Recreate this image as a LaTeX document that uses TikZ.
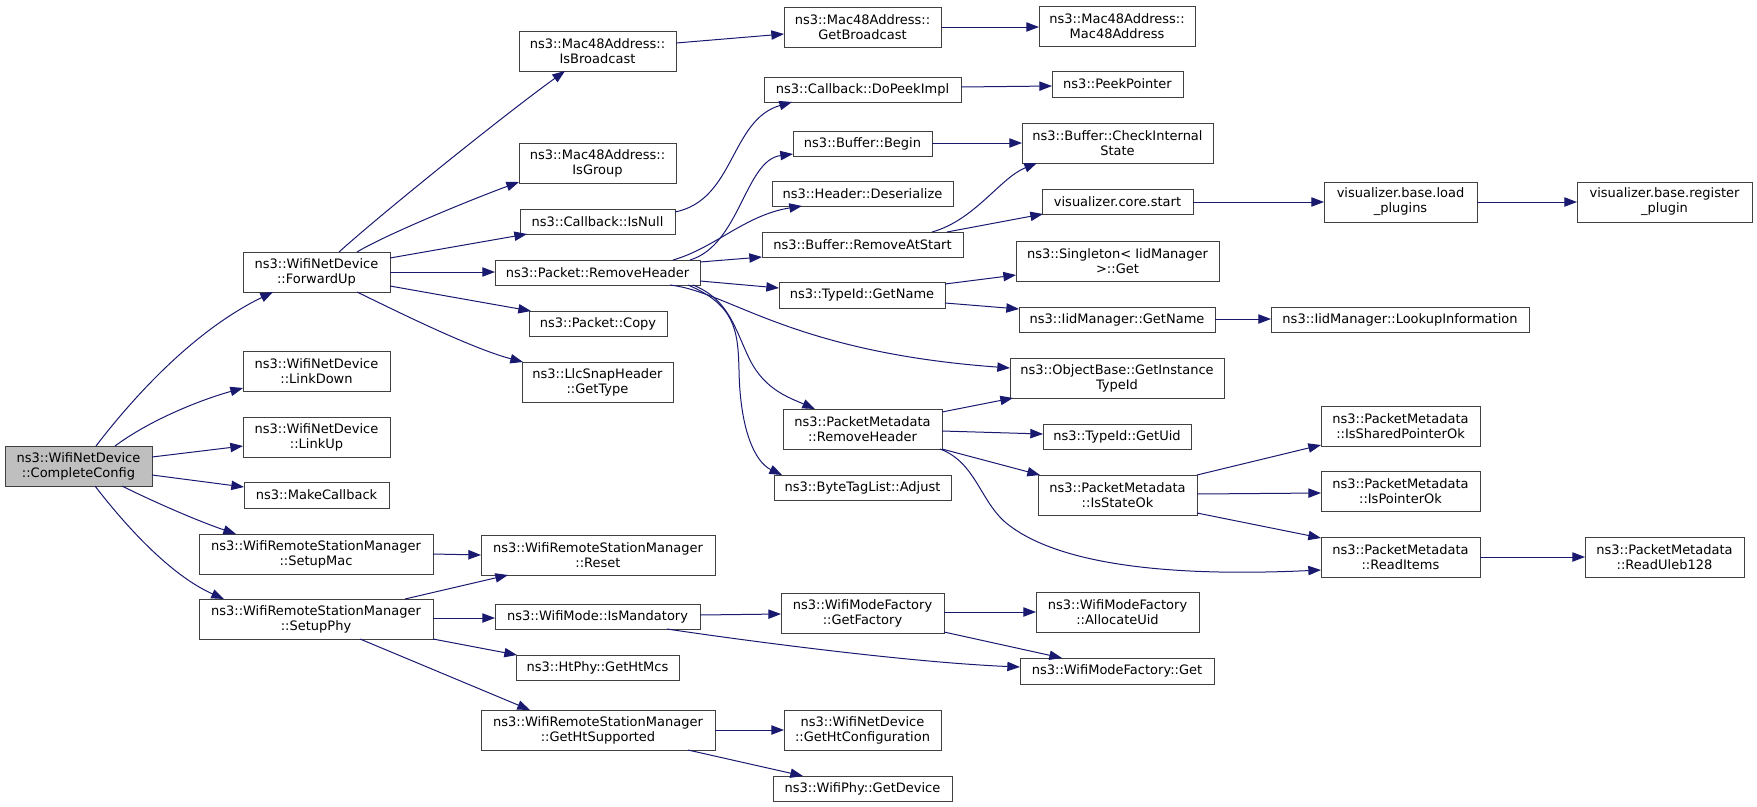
\documentclass[tikz,border=0pt]{standalone}
\usepackage{fontspec}
\setmainfont{DejaVu Sans}
\usetikzlibrary{arrows.meta}
\definecolor{edgecol}{HTML}{191970}
\definecolor{boxcol}{HTML}{404040}
\definecolor{rootfill}{HTML}{BFBFBF}
\tikzset{
  box/.style={draw=boxcol,line width=0.75pt,inner sep=0pt,outer sep=0pt,align=center,
    font=\fontsize{9.75}{11.25}\selectfont},
  rootbox/.style={fill=rootfill},
  call/.style={draw=edgecol,line width=0.75pt,-{Triangle[length=9.5pt,width=7pt]}}
}
\newcommand\bx[7][]{\pgfmathsetmacro\bxw{(#5-#3)*0.75}\pgfmathsetmacro\bxh{(#6-#4)*0.75}%
 \node[box,#1,minimum width=\bxw pt,minimum height=\bxh pt] (#2) at ({(#3+#5)/2},{(#4+#6)/2}) {#7};}
\begin{document}
\begin{tikzpicture}[x=0.75pt,y=-0.75pt]
\useasboundingbox (0,0) rectangle (1757,807);
% nodes
\bx[rootbox]{cc}{5}{446}{152}{486}{ns3::WifiNetDevice\\::CompleteConfig}
\bx{fwd}{243}{252}{390}{292}{ns3::WifiNetDevice\\::ForwardUp}
\bx{ldown}{243}{351}{390}{391}{ns3::WifiNetDevice\\::LinkDown}
\bx{lup}{243}{417}{390}{457}{ns3::WifiNetDevice\\::LinkUp}
\bx{mkcb}{244}{482}{389}{508}{ns3::MakeCallback}
\bx{smac}{199}{534}{433}{574}{ns3::WifiRemoteStationManager\\::SetupMac}
\bx{sphy}{199}{599}{433}{639}{ns3::WifiRemoteStationManager\\::SetupPhy}
\bx{isbc}{519}{31}{676}{71}{ns3::Mac48Address::\\IsBroadcast}
\bx{isgrp}{519}{143}{676}{183}{ns3::Mac48Address::\\IsGroup}
\bx{isnull}{520}{209}{675}{234}{ns3::Callback::IsNull}
\bx{prh}{495}{260}{700}{285}{ns3::Packet::RemoveHeader}
\bx{pcopy}{529}{311}{667}{336}{ns3::Packet::Copy}
\bx{llc}{522}{362}{673}{402}{ns3::LlcSnapHeader\\::GetType}
\bx{getbc}{784}{7}{941}{47}{ns3::Mac48Address::\\GetBroadcast}
\bx{mac48}{1039}{6}{1195}{46}{ns3::Mac48Address::\\Mac48Address}
\bx{peek}{764}{77}{961}{102}{ns3::Callback::DoPeekImpl}
\bx{ppt}{1052}{71}{1183}{97}{ns3::PeekPointer}
\bx{bbeg}{793}{131}{932}{156}{ns3::Buffer::Begin}
\bx{hdes}{772}{181}{953}{206}{ns3::Header::Deserialize}
\bx{bras}{762}{232}{963}{257}{ns3::Buffer::RemoveAtStart}
\bx{cis}{1022}{123}{1213}{163}{ns3::Buffer::CheckInternal\\State}
\bx{vcs}{1042}{189}{1193}{214}{visualizer.core.start}
\bx{sing}{1016}{241}{1219}{281}{ns3::Singleton< IidManager\\ >::Get}
\bx{lpl}{1324}{182}{1477}{222}{visualizer.base.load\\\_plugins}
\bx{rpl}{1577}{182}{1752}{222}{visualizer.base.register\\\_plugin}
\bx{tgn}{779}{282}{945}{308}{ns3::TypeId::GetName}
\bx{iign}{1019}{307}{1215}{332}{ns3::IidManager::GetName}
\bx{lookup}{1271}{307}{1529}{332}{ns3::IidManager::LookupInformation}
\bx{ogit}{1010}{358}{1224}{398}{ns3::ObjectBase::GetInstance\\TypeId}
\bx{pmrh}{783}{409}{942}{449}{ns3::PacketMetadata\\::RemoveHeader}
\bx{tuid}{1043}{424}{1191}{449}{ns3::TypeId::GetUid}
\bx{btla}{774}{475}{951}{500}{ns3::ByteTagList::Adjust}
\bx{isok}{1038}{475}{1197}{515}{ns3::PacketMetadata\\::IsStateOk}
\bx{isspo}{1321}{406}{1480}{446}{ns3::PacketMetadata\\::IsSharedPointerOk}
\bx{ispo}{1321}{471}{1480}{511}{ns3::PacketMetadata\\::IsPointerOk}
\bx{ritems}{1321}{537}{1480}{577}{ns3::PacketMetadata\\::ReadItems}
\bx{ruleb}{1585}{537}{1744}{577}{ns3::PacketMetadata\\::ReadUleb128}
\bx{reset}{481}{535}{715}{575}{ns3::WifiRemoteStationManager\\::Reset}
\bx{ismand}{495}{604}{700}{629}{ns3::WifiMode::IsMandatory}
\bx{htmcs}{516}{655}{679}{680}{ns3::HtPhy::GetHtMcs}
\bx{htsup}{481}{710}{715}{750}{ns3::WifiRemoteStationManager\\::GetHtSupported}
\bx{gfact}{781}{593}{944}{633}{ns3::WifiModeFactory\\::GetFactory}
\bx{htconf}{784}{710}{941}{750}{ns3::WifiNetDevice\\::GetHtConfiguration}
\bx{getdev}{773}{776}{952}{801}{ns3::WifiPhy::GetDevice}
\bx{alloc}{1036}{592}{1199}{632}{ns3::WifiModeFactory\\::AllocateUid}
\bx{wmfget}{1020}{658}{1214}{684}{ns3::WifiModeFactory::Get}
% edges from CompleteConfig
\draw[call] (cc.north -| 96,0) .. controls (135,395) and (195,330) .. (fwd.south -| 273,0);
\draw[call] (cc.north -| 115,0) .. controls (150,420) and (200,400) .. (ldown.west |- 0,388);
\draw[call] (cc.east |- 0,457) -- (lup.west |- 0,446);
\draw[call] (cc.east |- 0,475) -- (mkcb.west |- 0,487);
\draw[call] (cc.south -| 122,0) .. controls (150,500) and (195,520) .. (smac.north -| 236,0);
\draw[call] (cc.south -| 95,0) .. controls (125,525) and (170,575) .. (sphy.north -| 224,0);
% ForwardUp
\draw[call] (fwd.north -| 339,0) .. controls (380,215) and (500,118) .. (isbc.south -| 565,0);
\draw[call] (fwd.north -| 357,0) .. controls (385,235) and (470,200) .. (isgrp.west |- 0,182);
\draw[call] (fwd.east |- 0,258) -- (isnull.south -| 527,0);
\draw[call] (fwd.east |- 0,272) -- (prh.west |- 0,272);
\draw[call] (fwd.east |- 0,286) -- (pcopy.north -| 531,0);
\draw[call] (fwd.south -| 357,0) .. controls (390,308) and (470,348) .. (llc.north -| 523,0);
\draw[call] (isbc.east |- 0,43) -- (getbc.west |- 0,34);
\draw[call] (getbc.east |- 0,27) -- (mac48.west |- 0,27);
\draw[call] (isnull.east |- 0,212) .. controls (735,200) and (730,120) .. (peek.south -| 792,0);
\draw[call] (peek.east |- 0,87) -- (ppt.west |- 0,86);
% Packet::RemoveHeader
\draw[call] (prh.north -| 690,0) .. controls (740,245) and (745,160) .. (bbeg.west |- 0,154);
\draw[call] (prh.north -| 673,0) .. controls (715,248) and (745,215) .. (hdes.south -| 802,0);
\draw[call] (prh.east |- 0,262) -- (bras.west |- 0,257);
\draw[call] (prh.east |- 0,281) -- (tgn.west |- 0,288);
\draw[call] (prh.south -| 670,0) .. controls (730,292) and (790,352) .. (ogit.west |- 0,368);
\draw[call] (prh.south -| 693,0) .. controls (730,300) and (735,330) .. (750,360)
   .. controls (765,390) and (790,398) .. (pmrh.north -| 815,0);
\draw[call] (prh.south -| 688,0) .. controls (735,305) and (738,330) .. (739,370)
   .. controls (740,430) and (755,462) .. (btla.north -| 782,0);
\draw[call] (bbeg.east |- 0,143) -- (cis.west |- 0,143);
\draw[call] (bras.north -| 932,0) .. controls (975,220) and (1000,178) .. (cis.south -| 1037,0);
\draw[call] (bras.north -| 947,0) -- (vcs.south -| 1043,0);
\draw[call] (vcs.east |- 0,202) -- (lpl.west |- 0,202);
\draw[call] (lpl.east |- 0,202) -- (rpl.west |- 0,202);
\draw[call] (tgn.east |- 0,284) -- (sing.west |- 0,275);
\draw[call] (tgn.east |- 0,303) -- (iign.west |- 0,309);
\draw[call] (iign.east |- 0,319) -- (lookup.west |- 0,319);
% PacketMetadata::RemoveHeader
\draw[call] (pmrh.east |- 0,412) -- (ogit.south -| 1013,0);
\draw[call] (pmrh.east |- 0,431) -- (tuid.west |- 0,434);
\draw[call] (pmrh.south east) -- (isok.north -| 1040,0);
\draw[call] (pmrh.south -| 940,0) .. controls (975,462) and (980,500) .. (1005,522)
   .. controls (1050,560) and (1150,578) .. (ritems.west |- 0,570);
\draw[call] (isok.north east) -- (isspo.west |- 0,445);
\draw[call] (isok.east |- 0,494) -- (ispo.west |- 0,493);
\draw[call] (isok.east |- 0,513) -- (ritems.west |- 0,538);
\draw[call] (ritems.east |- 0,557) -- (ruleb.west |- 0,557);
% SetupMac / SetupPhy
\draw[call] (smac.east |- 0,554) -- (reset.west |- 0,555);
\draw[call] (sphy.north -| 405,0) -- (reset.south -| 508,0);
\draw[call] (sphy.east |- 0,618) -- (ismand.west |- 0,618);
\draw[call] (sphy.south east) -- (htmcs.north -| 517,0);
\draw[call] (sphy.south -| 360,0) -- (htsup.north -| 530,0);
\draw[call] (ismand.east |- 0,615) -- (gfact.west |- 0,614);
\draw[call] (ismand.south -| 667,0) .. controls (720,637) and (900,662) .. (wmfget.west |- 0,667);
\draw[call] (gfact.east |- 0,612) -- (alloc.west |- 0,612);
\draw[call] (gfact.east |- 0,632) -- (wmfget.north -| 1062,0);
\draw[call] (htsup.east |- 0,730) -- (htconf.west |- 0,730);
\draw[call] (htsup.south -| 688,0) -- (getdev.north -| 803,0);
\end{tikzpicture}
\end{document}
